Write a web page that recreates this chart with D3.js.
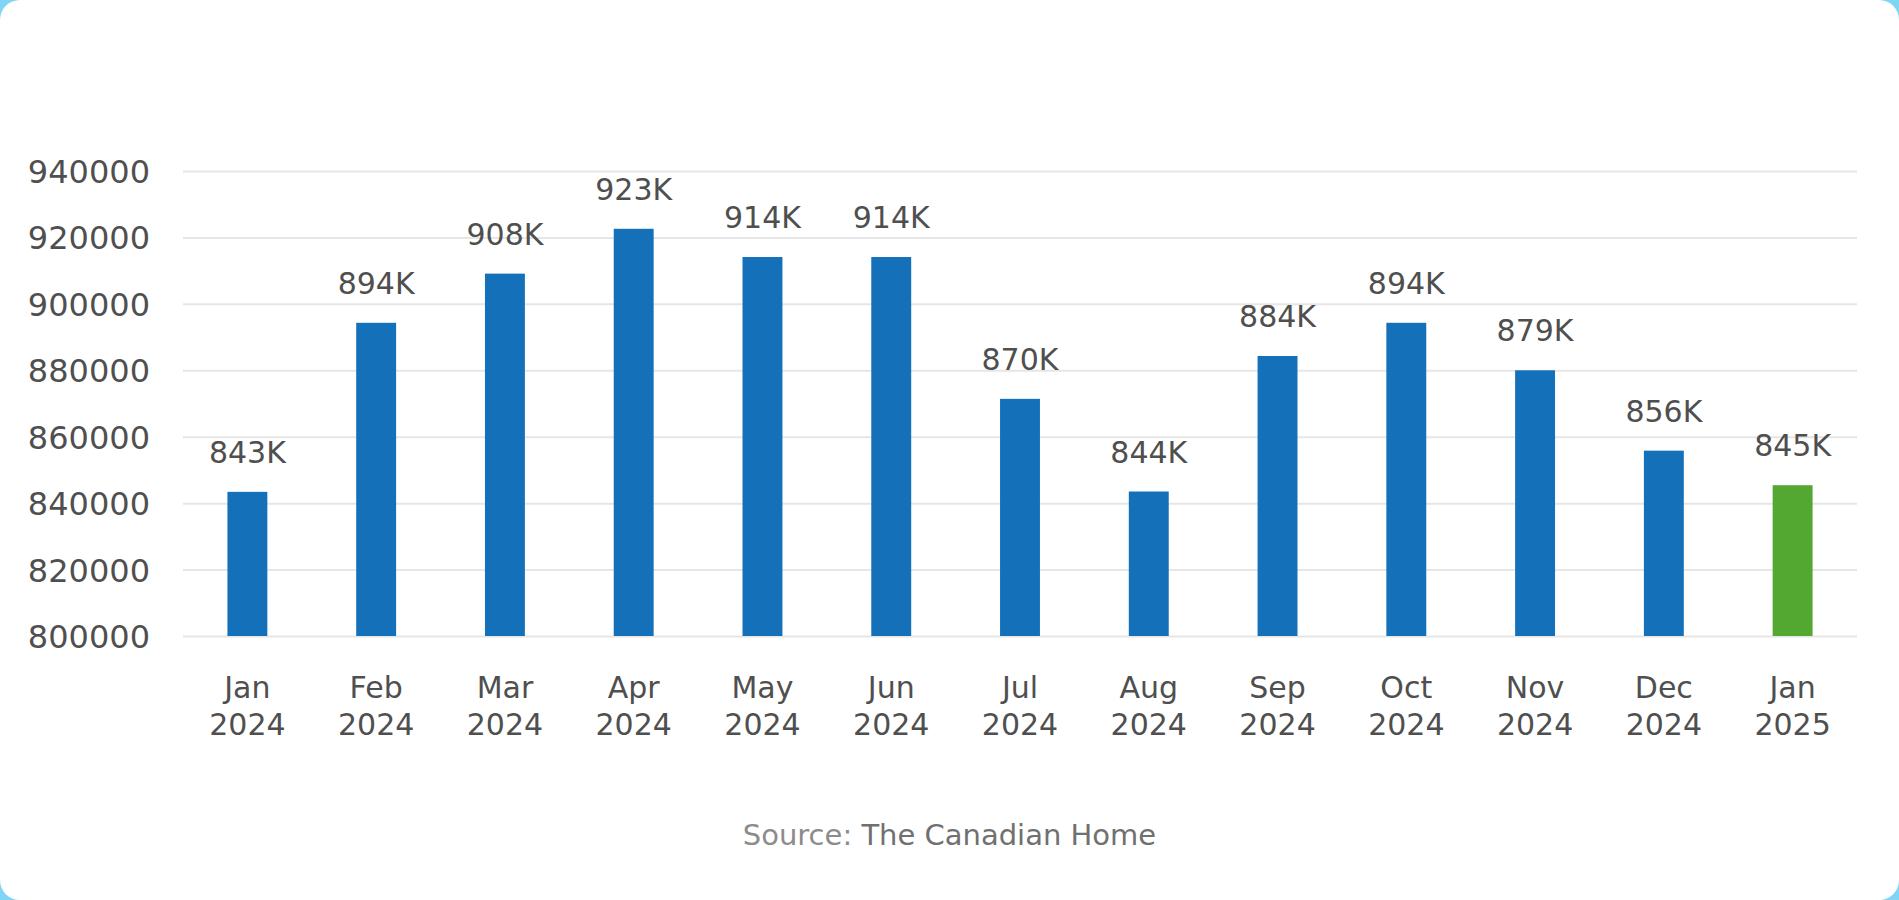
<!DOCTYPE html>
<html>
<head>
<meta charset="utf-8">
<script src="https://cdn.jsdelivr.net/npm/d3@7"></script>
<style>
html,body{margin:0;padding:0;background:#7fd6f4;}
svg{display:block;}
</style>
</head>
<body>
<script>
const categories = ["Jan 2024","Feb 2024","Mar 2024","Apr 2024","May 2024","Jun 2024","Jul 2024","Aug 2024","Sep 2024","Oct 2024","Nov 2024","Dec 2024","Jan 2025"];
const values = [843400, 894300, 909100, 922600, 914100, 914100, 871400, 843500, 884300, 894300, 880000, 855800, 845400];
const labels = ["843K","894K","908K","923K","914K","914K","870K","844K","884K","894K","879K","856K","845K"];
const highlight = [false,false,false,false,false,false,false,false,false,false,false,false,true];
const yTicks = [800000, 820000, 840000, 860000, 880000, 900000, 920000, 940000];

const W = 1899, H = 900;
const font = "'DejaVu Sans', sans-serif";
const svg = d3.select("body").append("svg").attr("width", W).attr("height", H);

svg.append("rect").attr("x",0).attr("y",0).attr("width",W).attr("height",H)
  .attr("rx",20).attr("ry",20).attr("fill","#ffffff");

const mLeft = 183, mRight = 1857, mTop = 171, mBottom = 636;
const x = d3.scaleBand().domain(categories).range([mLeft, mRight]).paddingInner(0.69).paddingOuter(0.345);
const y = d3.scaleLinear().domain([800000, 940000]).range([mBottom, mTop]);

// gridlines
const yAxis = d3.axisLeft(y).tickValues(yTicks).tickSize(-(mRight-mLeft)).tickPadding(33).tickFormat(d3.format("d"));
const gy = svg.append("g").attr("transform", `translate(${mLeft},0)`).call(yAxis);
gy.select(".domain").remove();
gy.selectAll(".tick line").attr("stroke","#e6e6e6").attr("stroke-width",2);
gy.selectAll(".tick text").attr("fill","#4f4f4f").attr("font-size",32).attr("font-family",font).attr("dy","0.36em");

// bars
svg.append("g").selectAll("rect").data(categories).join("rect")
  .attr("x", d => x(d))
  .attr("width", x.bandwidth())
  .attr("y", (d,i) => y(values[i]))
  .attr("height", (d,i) => mBottom - y(values[i]))
  .attr("fill", (d,i) => highlight[i] ? "#52a830" : "#1471b9");

// value labels
svg.append("g").selectAll("text").data(categories).join("text")
  .attr("x", d => x(d) + x.bandwidth()/2)
  .attr("y", (d,i) => y(values[i]) - 29)
  .attr("text-anchor","middle")
  .attr("font-family",font).attr("font-size",30).attr("fill","#4f4f4f")
  .text((d,i) => labels[i]);

// x axis labels
const xAxis = d3.axisBottom(x).tickSize(0).tickFormat("");
const gx = svg.append("g").attr("transform", `translate(0,${mBottom})`).call(xAxis);
gx.select(".domain").remove();
gx.selectAll(".tick").each(function(d){
  const parts = d.split(" ");
  const t = d3.select(this).append("text").attr("text-anchor","middle")
    .attr("font-family",font).attr("font-size",30).attr("fill","#4f4f4f");
  t.append("tspan").attr("x",0).attr("y",62).text(parts[0]);
  t.append("tspan").attr("x",0).attr("y",99).text(parts[1]);
});

// source
const src = svg.append("text").attr("x", W/2).attr("y", 845).attr("text-anchor","middle")
  .attr("font-family",font).attr("font-size",29);
src.append("tspan").attr("fill","#8c8c8c").text("Source: ");
src.append("tspan").attr("fill","#707070").text("The Canadian Home");
</script>
</body>
</html>
